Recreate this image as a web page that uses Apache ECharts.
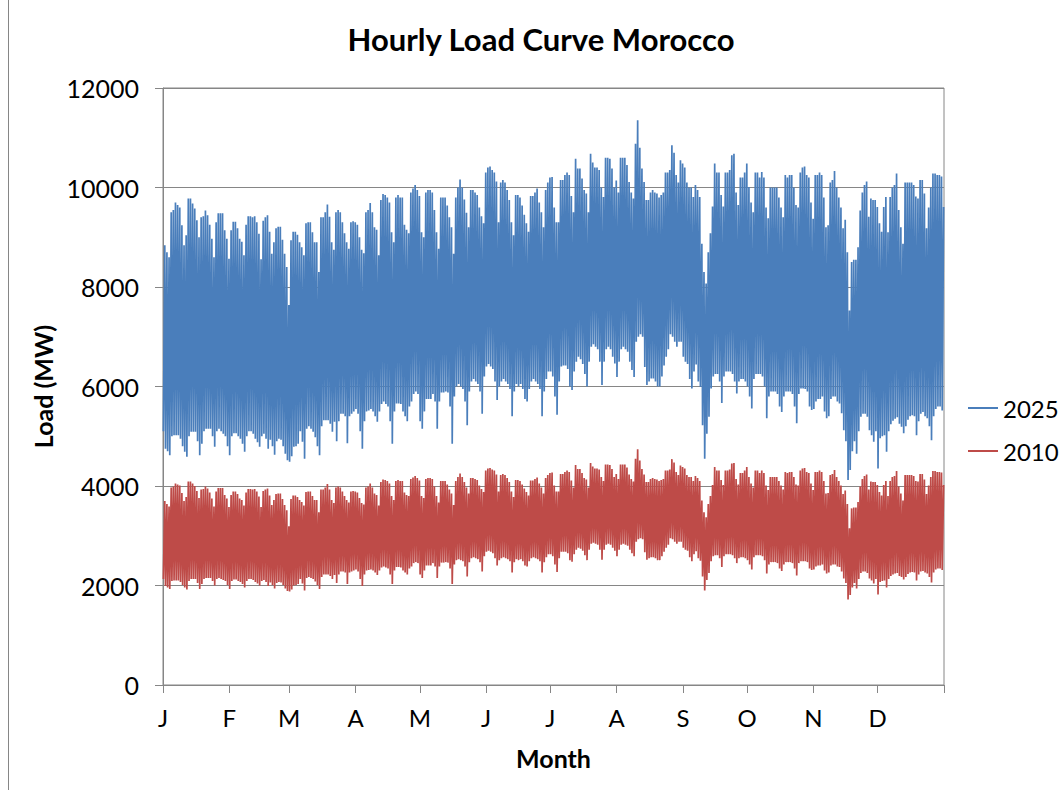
<!DOCTYPE html>
<html>
<head>
<meta charset="utf-8">
<title>Hourly Load Curve Morocco</title>
<script src="https://cdn.jsdelivr.net/npm/echarts@6/dist/echarts.min.js"></script>
<style>
  html, body { margin: 0; padding: 0; background: #ffffff; }
  #chart { width: 1064px; height: 790px; }
</style>
</head>
<body>
<div id="chart"></div>
<script>
// Month axis: one letter per month, ticks at each month boundary
const monthLabels = ['J', 'F', 'M', 'A', 'M', 'J', 'J', 'A', 'S', 'O', 'N', 'D'];
const monthDays = [31, 28, 31, 30, 31, 30, 31, 31, 30, 31, 30, 31];
const seriesNames = ['2025', '2010'];

// Daily load envelope (MW): evening peak and early-morning trough for each day of the year
const peak2025 = [
  // Jan
  8840, 8700, 8600, 9500, 9550, 9700, 9650, 9600, 9240, 8840,
  9040, 9780, 9780, 9680, 9580, 9340, 9000, 9400, 9420, 9540,
  9440, 9250, 8970, 8600, 9300, 9480, 9480, 9480, 9140, 8970,
  8570,
  // Feb
  9140, 9310, 9310, 9180, 8970, 8910, 8640, 9250, 9420,
  9420, 9400, 9420, 9300, 9070, 8560, 9330, 9400, 9440, 9110,
  8670, 8900, 9180, 9210, 9210, 8950, 8670, 8400, 7640,
  // Mar
  8940,
  9110, 9110, 9050, 8900, 8800, 8640, 9280, 9300, 9300, 9100,
  8900, 8900, 8300, 9400, 9400, 9500, 9660, 9410, 8900, 8750,
  9500, 9550, 9500, 9300, 9080, 8900, 8770, 9300, 9320, 9300,
  // Apr
  9250, 9000, 8750, 8680, 9500, 9550, 9690, 9500, 9200, 9150,
  8640, 9750, 9870, 9850, 9800, 9700, 9100, 8900, 9800, 9850,
  9800, 9800, 9250, 9150, 9080, 9900, 9980, 10050, 9950, 9830,
  // May
  9100, 9000, 9900, 9950, 9950, 9900, 9550, 9100, 8770, 9800,
  9800, 9800, 9640, 9400, 9200, 8670, 9800, 10000, 10160, 10000,
  9760, 9490, 9200, 9950, 9950, 9900, 9850, 9600, 9420, 9280,
  10300,
  // Jun
  10400, 10420, 10350, 10300, 10120, 9300, 10100, 10150, 10100,
  9950, 9750, 9300, 9040, 9850, 9850, 9800, 9640, 9450, 9280,
  9110, 9830, 9830, 9900, 9980, 9700, 9500, 9200, 9950, 10100,
  10200,
  // Jul
  10210, 9600, 9300, 9300, 10150, 10150, 10250, 10300, 10250,
  9830, 9500, 10580, 10380, 10380, 10180, 9950, 9880, 9500, 10680,
  10500, 10400, 10400, 10350, 10000, 9810, 10600, 10600, 10580, 10380,
  10000, 10140,
  // Aug
  9900, 10600, 10600, 10600, 10450, 10110, 9900, 9780,
  10880, 11350, 10800, 10380, 10110, 9750, 9750, 9900, 9950, 9900,
  9880, 9800, 9850, 9900, 10300, 10300, 10350, 10850, 10700, 10250,
  10100, 10550, 10480,
  // Sep
  10400, 10100, 10000, 10000, 9810, 10050, 9950,
  9810, 8870, 8300, 8070, 8700, 9080, 9620, 10480, 10300, 10300,
  9850, 9620, 10300, 10300, 10350, 10650, 10680, 9900, 9650, 10200,
  10200, 10300, 10480,
  // Oct
  10010, 9700, 9500, 10300, 10300, 10200, 10310,
  10200, 9600, 9380, 10000, 10000, 10000, 10000, 9800, 9600, 9400,
  10250, 10200, 10250, 10250, 10000, 9650, 9600, 10300, 10400, 10420,
  10250, 10200, 9700, 9370,
  // Nov
  10250, 10250, 10300, 10250, 9800, 9200,
  9240, 10100, 10150, 10330, 10000, 9800, 9600, 9180, 9350, 8700,
  7530, 8500, 8550, 8550, 8800, 9540, 9900, 10050, 10120, 9410,
  9780, 9750, 9750, 9610,
  // Dec
  9280, 9110, 9610, 9810, 9100, 9810,
  10000, 10050, 10280, 9550, 9200, 8870, 10100, 10100, 10100, 10100,
  10050, 9820, 9780, 10150, 10150, 9880, 9180, 9600, 10000, 10280,
  10280, 10250, 10250, 10220, 9610
];

const trough2025 = [
  // Jan
  5100, 4750, 4700, 4620, 5000, 5020, 5020, 5020, 4950, 4800,
  4690, 4590, 5000, 5090, 5090, 5090, 4900, 4620, 4850, 5100,
  5150, 5150, 5150, 5000, 4790, 5100, 5150, 5100, 5050, 5000,
  4800,
  // Feb
  4620, 5000, 5060, 5060, 5000, 4950, 4850, 4690, 5000,
  5100, 5100, 5050, 4950, 4880, 4790, 5000, 5050, 4950, 4750,
  4930, 4800, 4630, 4900, 4950, 4930, 4800, 4650, 4520,
  // Mar
  4490,
  4600, 4790, 4800, 4850, 5100, 4890, 4550, 5150, 5200, 5150,
  5090, 4980, 4800, 4620, 5200, 5320, 5320, 5320, 5250, 5090,
  5290, 4900, 5300, 5450, 5450, 5400, 4860, 5400, 5450, 5500,
  // Apr
  5550, 5450, 5100, 4750, 5300, 5500, 5520, 5550, 5500, 5400,
  5290, 5500, 5650, 5700, 5650, 5600, 5300, 4850, 5500, 5660,
  5660, 5650, 5500, 5400, 5300, 5600, 5700, 5850, 5900, 5850,
  // May
  5300, 5150, 5500, 5750, 5750, 5750, 5850, 5700, 5150, 5700,
  5880, 5880, 5900, 5880, 5600, 4850, 5800, 6000, 6050, 6000,
  5950, 5700, 5220, 5900, 6100, 6150, 6100, 6050, 5900, 5450,
  6200,
  // Jun
  6400, 6450, 6400, 6350, 6100, 5730, 6000, 6100, 6150,
  6100, 6050, 5950, 5400, 5900, 6050, 6000, 6050, 5950, 5750,
  5700, 5950, 6100, 6150, 6100, 6050, 5950, 5400, 5900, 6150,
  6300,
  // Jul
  6300, 6200, 5800, 5430, 6100, 6400, 6420, 6420, 6350,
  6000, 5930, 6300, 6500, 6600, 6550, 6450, 6250, 6000, 6500,
  6800, 6850, 6800, 6750, 6500, 6030, 6500, 6750, 6800, 6750,
  6600, 6460,
  // Aug
  6190, 6500, 6750, 6800, 6750, 6700, 6500, 6330,
  6190, 6900, 7000, 7050, 7000, 6390, 6030, 6100, 6160, 6160,
  6100, 6000, 6000, 6200, 6420, 6600, 6750, 7050, 7000, 6900,
  6800, 6900, 6900,
  // Sep
  6600, 6500, 6450, 6150, 5960, 6300, 6440,
  6100, 5990, 5220, 4550, 5050, 5390, 5960, 6200, 6250, 6250,
  6100, 5670, 6200, 6300, 6300, 6300, 6250, 6100, 5860, 6100,
  6150, 6150, 6100,
  // Oct
  6000, 5800, 5560, 6150, 6250, 6250, 6250,
  6200, 6000, 5360, 5800, 5900, 5900, 5900, 5850, 5600, 5490,
  5800, 5900, 5900, 5900, 5850, 5600, 5260, 5850, 5960, 5960,
  5950, 5900, 5600, 5530,
  // Nov
  5550, 5700, 5750, 5750, 5800, 5500,
  5360, 5400, 5750, 5800, 5800, 5700, 5660, 5460, 5120, 4900,
  4120, 4320, 4700, 4900, 4650, 5100, 5390, 5450, 5450, 5390,
  5120, 5020, 4890, 5100,
  // Dec
  4350, 4960, 5000, 5020, 4690, 5100,
  5240, 5310, 5350, 5380, 5250, 5190, 5060, 5200, 5330, 5400,
  5420, 5400, 5020, 5300, 5450, 5490, 5400, 5360, 5200, 4920,
  5400, 5550, 5600, 5600, 5520
];

const peak2010 = [
  // Jan
  3700, 3640, 3590, 3970, 3990, 4050, 4030, 4010, 3860, 3700,
  3780, 4090, 4090, 4050, 4000, 3900, 3760, 3930, 3940, 3990,
  3950, 3870, 3750, 3590, 3890, 3960, 3960, 3960, 3820, 3750,
  3580,
  // Feb
  3820, 3890, 3890, 3840, 3750, 3720, 3610, 3870, 3940,
  3940, 3930, 3940, 3890, 3790, 3580, 3900, 3930, 3950, 3810,
  3620, 3720, 3840, 3850, 3850, 3740, 3620, 3510, 3190,
  // Mar
  3740,
  3810, 3810, 3780, 3720, 3680, 3610, 3880, 3890, 3890, 3800,
  3720, 3720, 3470, 3930, 3930, 3970, 4040, 3930, 3720, 3660,
  3970, 3990, 3970, 3890, 3800, 3720, 3670, 3890, 3900, 3890,
  // Apr
  3870, 3760, 3660, 3630, 3970, 3990, 4050, 3970, 3850, 3820,
  3610, 4080, 4130, 4120, 4100, 4050, 3800, 3720, 4100, 4120,
  4100, 4100, 3870, 3820, 3800, 4140, 4170, 4200, 4160, 4110,
  // May
  3800, 3760, 4140, 4160, 4160, 4140, 3990, 3800, 3670, 4100,
  4100, 4100, 4030, 3930, 3850, 3620, 4100, 4180, 4250, 4180,
  4080, 3970, 3850, 4160, 4160, 4140, 4120, 4010, 3940, 3880,
  4310,
  // Jun
  4350, 4360, 4330, 4310, 4230, 3890, 4220, 4240, 4220,
  4160, 4080, 3890, 3780, 4120, 4120, 4100, 4030, 3950, 3880,
  3810, 4110, 4110, 4140, 4170, 4050, 3970, 3850, 4160, 4220,
  4260,
  // Jul
  4270, 4010, 3890, 3890, 4240, 4240, 4280, 4310, 4280,
  4110, 3970, 4420, 4340, 4340, 4260, 4160, 4130, 3970, 4460,
  4390, 4350, 4350, 4330, 4180, 4100, 4430, 4430, 4420, 4340,
  4180, 4240,
  // Aug
  4140, 4430, 4430, 4430, 4370, 4230, 4140, 4090,
  4550, 4740, 4510, 4340, 4230, 4080, 4080, 4140, 4160, 4140,
  4130, 4100, 4120, 4140, 4310, 4310, 4330, 4540, 4470, 4280,
  4220, 4410, 4380,
  // Sep
  4350, 4220, 4180, 4180, 4100, 4200, 4160,
  4100, 3710, 3470, 3370, 3640, 3800, 4020, 4380, 4310, 4310,
  4120, 4020, 4310, 4310, 4330, 4450, 4460, 4140, 4030, 4260,
  4260, 4310, 4380,
  // Oct
  4180, 4050, 3970, 4310, 4310, 4260, 4310,
  4260, 4010, 3920, 4180, 4180, 4180, 4180, 4100, 4010, 3930,
  4280, 4260, 4280, 4280, 4180, 4030, 4010, 4310, 4350, 4360,
  4280, 4260, 4050, 3920,
  // Nov
  4280, 4280, 4310, 4280, 4100, 3850,
  3860, 4220, 4240, 4320, 4180, 4100, 4010, 3840, 3910, 3640,
  3150, 3550, 3570, 3570, 3680, 3990, 4140, 4200, 4230, 3930,
  4090, 4080, 4080, 4020,
  // Dec
  3880, 3810, 4020, 4100, 3800, 4100,
  4180, 4200, 4300, 3990, 3850, 3710, 4220, 4220, 4220, 4220,
  4200, 4100, 4090, 4240, 4240, 4130, 3840, 4010, 4180, 4300,
  4300, 4280, 4280, 4270, 4020
];

const trough2010 = [
  // Jan
  2130, 1990, 1960, 1930, 2090, 2100, 2100, 2100, 2070, 2010,
  1960, 1920, 2090, 2130, 2130, 2130, 2050, 1930, 2030, 2130,
  2150, 2150, 2150, 2090, 2000, 2130, 2150, 2130, 2110, 2090,
  2010,
  // Feb
  1930, 2090, 2120, 2120, 2090, 2070, 2030, 1960, 2090,
  2130, 2130, 2110, 2070, 2040, 2000, 2090, 2110, 2070, 1990,
  2060, 2010, 1940, 2050, 2070, 2060, 2010, 1940, 1890,
  // Mar
  1880,
  1920, 2000, 2010, 2030, 2130, 2040, 1900, 2150, 2170, 2150,
  2130, 2080, 2010, 1930, 2170, 2220, 2220, 2220, 2190, 2130,
  2210, 2050, 2220, 2280, 2280, 2260, 2030, 2260, 2280, 2300,
  // Apr
  2320, 2280, 2130, 1990, 2220, 2300, 2310, 2320, 2300, 2260,
  2210, 2300, 2360, 2380, 2360, 2340, 2220, 2030, 2300, 2370,
  2370, 2360, 2300, 2260, 2220, 2340, 2380, 2450, 2470, 2450,
  // May
  2220, 2150, 2300, 2400, 2400, 2400, 2450, 2380, 2150, 2380,
  2460, 2460, 2470, 2460, 2340, 2030, 2420, 2510, 2530, 2510,
  2490, 2380, 2180, 2470, 2550, 2570, 2550, 2530, 2470, 2280,
  2590,
  // Jun
  2680, 2700, 2680, 2650, 2550, 2400, 2510, 2550, 2570,
  2550, 2530, 2490, 2260, 2470, 2530, 2510, 2530, 2490, 2400,
  2380, 2490, 2550, 2570, 2550, 2530, 2490, 2260, 2470, 2570,
  2630,
  // Jul
  2630, 2590, 2420, 2270, 2550, 2680, 2680, 2680, 2650,
  2510, 2480, 2630, 2720, 2760, 2740, 2700, 2610, 2510, 2720,
  2840, 2860, 2840, 2820, 2720, 2520, 2720, 2820, 2840, 2820,
  2760, 2700,
  // Aug
  2590, 2720, 2820, 2840, 2820, 2800, 2720, 2650,
  2590, 2880, 2930, 2950, 2930, 2670, 2520, 2550, 2570, 2570,
  2550, 2510, 2510, 2590, 2680, 2760, 2820, 2950, 2930, 2880,
  2840, 2880, 2880,
  // Sep
  2760, 2720, 2700, 2570, 2490, 2630, 2690,
  2550, 2500, 2180, 1900, 2110, 2250, 2490, 2590, 2610, 2610,
  2550, 2370, 2590, 2630, 2630, 2630, 2610, 2550, 2450, 2550,
  2570, 2570, 2550,
  // Oct
  2510, 2420, 2320, 2570, 2610, 2610, 2610,
  2590, 2510, 2240, 2420, 2470, 2470, 2470, 2450, 2340, 2290,
  2420, 2470, 2470, 2470, 2450, 2340, 2200, 2450, 2490, 2490,
  2490, 2470, 2340, 2310,
  // Nov
  2320, 2380, 2400, 2400, 2420, 2300,
  2240, 2260, 2400, 2420, 2420, 2380, 2370, 2280, 2140, 2050,
  1720, 1810, 1960, 2050, 1940, 2130, 2250, 2280, 2280, 2250,
  2140, 2100, 2040, 2130,
  // Dec
  1820, 2070, 2090, 2100, 1960, 2130,
  2190, 2220, 2240, 2250, 2190, 2170, 2120, 2170, 2230, 2260,
  2270, 2260, 2100, 2220, 2280, 2290, 2260, 2240, 2170, 2060,
  2260, 2320, 2340, 2340, 2310
];

// Hour of day at which the daily trough and peak occur
const troughHour = 4;
const peakHour = 20;

// Month boundaries in hours of the year
const monthStarts = [0];
monthDays.forEach(function (d, i) { monthStarts.push(monthStarts[i] + d * 24); });
const hoursInYear = monthStarts[monthStarts.length - 1];

// Hour-stamped points: trough then peak for every day
function hourlyPoints(trough, peak) {
  const pts = [];
  for (let d = 0; d < trough.length; d++) {
    pts.push([d * 24 + troughHour, trough[d]]);
    pts.push([d * 24 + peakHour, peak[d]]);
  }
  return pts;
}

const FONT = 'Lato, "Open Sans", sans-serif';
const AXIS_GRAY = '#868686';

const chart = echarts.init(document.getElementById('chart'), null, { renderer: 'svg' });

chart.setOption({
  animation: false,
  backgroundColor: '#ffffff',
  textStyle: { fontFamily: FONT, color: '#000000' },
  title: {
    text: 'Hourly Load Curve Morocco',
    left: 541,
    textAlign: 'center',
    top: 23,
    padding: 0,
    textStyle: { fontFamily: FONT, fontSize: 31, fontWeight: 'bold', color: '#000000' }
  },
  // chart-area frame edge on the left
  graphic: [{
    type: 'line',
    silent: true,
    shape: { x1: 8.5, y1: 0, x2: 8.5, y2: 790 },
    style: { stroke: AXIS_GRAY, lineWidth: 1 }
  }],
  legend: {
    orient: 'vertical',
    left: 968,
    top: 394,
    padding: 0,
    itemWidth: 30,
    itemHeight: 14,
    itemGap: 15,
    icon: 'path://M0,6 L30,6 L30,8 L0,8 Z',
    textStyle: { fontFamily: FONT, fontSize: 24, color: '#000000', lineHeight: 28 },
    data: seriesNames
  },
  grid: {
    left: 163,
    right: 120,
    top: 88,
    bottom: 105,
    show: true,
    borderColor: AXIS_GRAY,
    borderWidth: 1,
    backgroundColor: 'transparent'
  },
  xAxis: {
    type: 'value',
    min: 0,
    max: hoursInYear,
    name: 'Month',
    nameLocation: 'middle',
    nameGap: 60,
    nameTextStyle: { fontFamily: FONT, fontSize: 25, fontWeight: 'bold', color: '#000000' },
    axisLine: { show: true, lineStyle: { color: AXIS_GRAY, width: 1 } },
    axisTick: { show: true, length: 8, customValues: monthStarts, lineStyle: { color: AXIS_GRAY } },
    axisLabel: {
      customValues: monthStarts.slice(0, 12),
      margin: 20,
      fontFamily: FONT,
      fontSize: 24,
      color: '#000000',
      formatter: function (v) { return monthLabels[monthStarts.indexOf(v)]; }
    },
    splitLine: { show: false }
  },
  yAxis: {
    type: 'value',
    min: 0,
    max: 12000,
    interval: 2000,
    name: 'Load (MW)',
    nameLocation: 'middle',
    nameGap: 103,
    nameRotate: 90,
    nameTextStyle: { fontFamily: FONT, fontSize: 25, fontWeight: 'bold', color: '#000000' },
    axisLine: { show: true, lineStyle: { color: AXIS_GRAY, width: 1 } },
    axisTick: { show: true, length: 8, lineStyle: { color: AXIS_GRAY } },
    axisLabel: {
      margin: 24,
      fontFamily: FONT,
      fontSize: 25,
      color: '#000000',
      formatter: function (v) { return String(v); }
    },
    splitLine: { show: true, lineStyle: { color: AXIS_GRAY, width: 1 } }
  },
  series: [
    {
      name: seriesNames[0],
      type: 'line',
      symbol: 'none',
      silent: true,
      color: '#4a7ebb',
      lineStyle: { color: '#4a7ebb', width: 1.7 },
      data: hourlyPoints(trough2025, peak2025)
    },
    {
      name: seriesNames[1],
      type: 'line',
      symbol: 'none',
      silent: true,
      color: '#be4b48',
      lineStyle: { color: '#be4b48', width: 1.7 },
      data: hourlyPoints(trough2010, peak2010)
    }
  ]
});
</script>
</body>
</html>
